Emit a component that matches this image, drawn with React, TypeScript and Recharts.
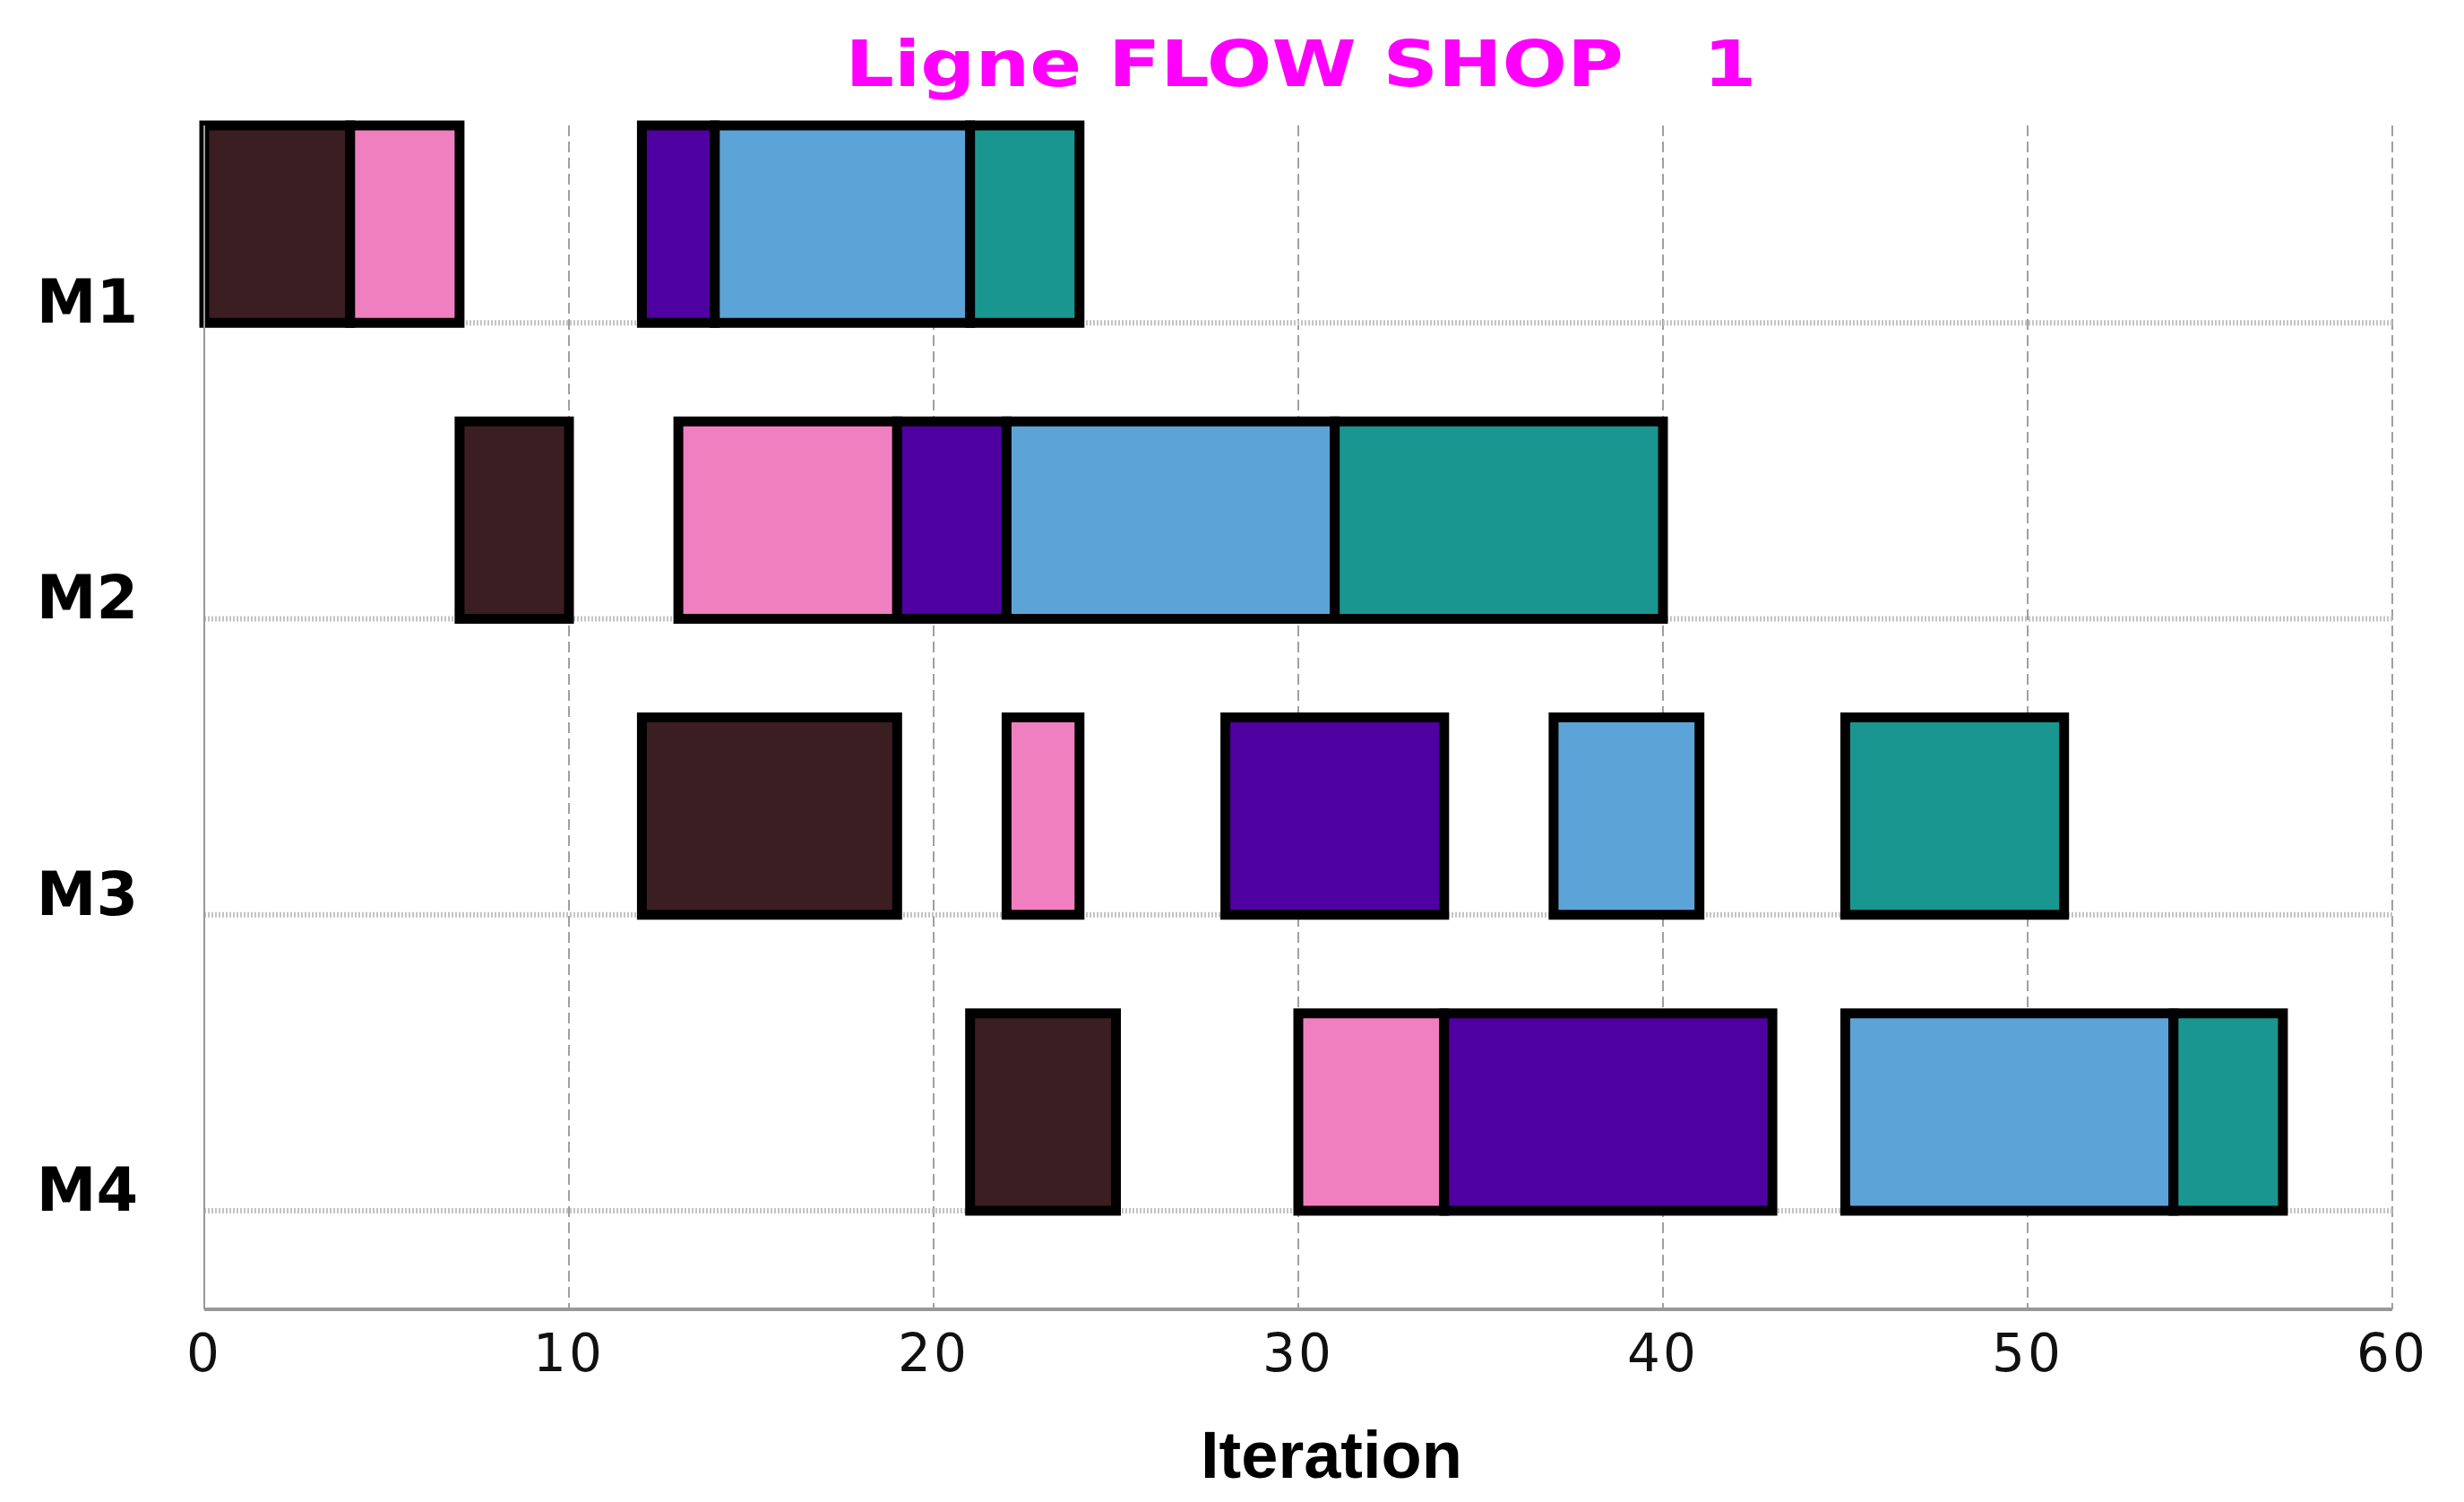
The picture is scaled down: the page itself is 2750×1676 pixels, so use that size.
import React from 'react';
import {
  ComposedChart,
  XAxis,
  YAxis,
  CartesianGrid,
  ReferenceArea,
  Label,
} from 'recharts';

// machines from top to bottom, jobs in flow-shop order
const machines = ['M1', 'M2', 'M3', 'M4'];
const jobColors = ['#3B1E22', '#F07FC0', '#4F00A0', '#5CA4D8', '#1A9690'];

const m1Starts = [0, 4, 12, 14, 21];
const m1Ends = [4, 7, 14, 21, 24];
const m2Starts = [7, 13, 19, 22, 31];
const m2Ends = [10, 19, 22, 31, 40];
const m3Starts = [12, 22, 28, 37, 45];
const m3Ends = [19, 24, 34, 41, 51];
const m4Starts = [21, 30, 34, 45, 54];
const m4Ends = [25, 34, 43, 54, 57];

const xTicks = [0, 10, 20, 30, 40, 50, 60];
const rowTicks = [1, 2, 3, 4];

const starts = [m1Starts, m2Starts, m3Starts, m4Starts];
const ends = [m1Ends, m2Ends, m3Ends, m4Ends];
const barHeight = 2 / 3;

const segments = machines.flatMap((m, i) =>
  starts[i].map((s, j) => ({
    machine: m,
    row: machines.length - i,
    start: s,
    end: ends[i][j],
    color: jobColors[j],
  }))
);

const rowName = (v: number) => machines[machines.length - v];

const XTick = (props: any) => {
  const { x, y, payload } = props;
  return (
    <text x={x} y={y} textAnchor="middle" fontFamily="DejaVu Sans" fontSize={58} letterSpacing={3} fill="#111">
      {payload.value}
    </text>
  );
};

const YTick = (props: any) => {
  const { x, y, payload } = props;
  return (
    <text x={x} y={y} textAnchor="end" fontFamily="DejaVu Sans" fontWeight="bold" fontSize={67} fill="#000">
      {rowName(payload.value)}
    </text>
  );
};

export default function App() {
  return (
    <div style={{ position: 'absolute', left: 0, top: 0, width: 2750, height: 1676, background: '#fff' }}>
      <svg width={2750} height={140} style={{ position: 'absolute', left: 0, top: 0 }}>
        <text
          x={1452}
          y={96}
          textAnchor="middle"
          fontFamily="DejaVu Sans"
          fontWeight="bold"
          fontSize={72}
          fill="#FF00FF"
          textLength={1017}
          lengthAdjust="spacingAndGlyphs"
          style={{ whiteSpace: 'pre' }}
        >
          {'Ligne FLOW SHOP   1'}
        </text>
      </svg>
      <ComposedChart
        width={2750}
        height={1676}
        data={segments}
        margin={{ top: 140, right: 80, bottom: 0, left: 0 }}
      >
        <CartesianGrid
          horizontal={false}
          verticalValues={xTicks}
          stroke="#a0a0a0"
          strokeWidth={2}
          strokeDasharray="12 6"
        />
        <CartesianGrid
          vertical={false}
          horizontalValues={rowTicks}
          stroke="#c4c4c4"
          strokeWidth={6}
          strokeDasharray="2 2"
        />
        <XAxis
          type="number"
          dataKey="start"
          domain={[0, 60]}
          ticks={xTicks}
          height={215}
          tickSize={0}
          tickMargin={69}
          tick={<XTick />}
          axisLine={{ stroke: '#999', strokeWidth: 4 }}
          tickLine={false}
        >
          <Label
            value="Iteration"
            position="insideBottom"
            offset={27}
            dx={37}
            fontFamily="Liberation Sans"
            fontWeight="bold"
            fontSize={74}
            fill="#000"
          />
        </XAxis>
        <YAxis
          type="number"
          dataKey="row"
          domain={[1 - barHeight / 2 - 1 / 3 + barHeight / 2, 4 + barHeight]}
          ticks={rowTicks}
          width={228}
          tickSize={0}
          tickMargin={74}
          tick={<YTick />}
          axisLine={{ stroke: '#999', strokeWidth: 2 }}
          tickLine={false}
          allowDataOverflow
        />
        {segments.map((s, k) => (
          <ReferenceArea
            key={k}
            x1={s.start}
            x2={s.end}
            y1={s.row}
            y2={s.row + barHeight}
            fill={s.color}
            fillOpacity={1}
            stroke="#000"
            strokeWidth={11}
            ifOverflow="visible"
          />
        ))}
      </ComposedChart>
    </div>
  );
}
